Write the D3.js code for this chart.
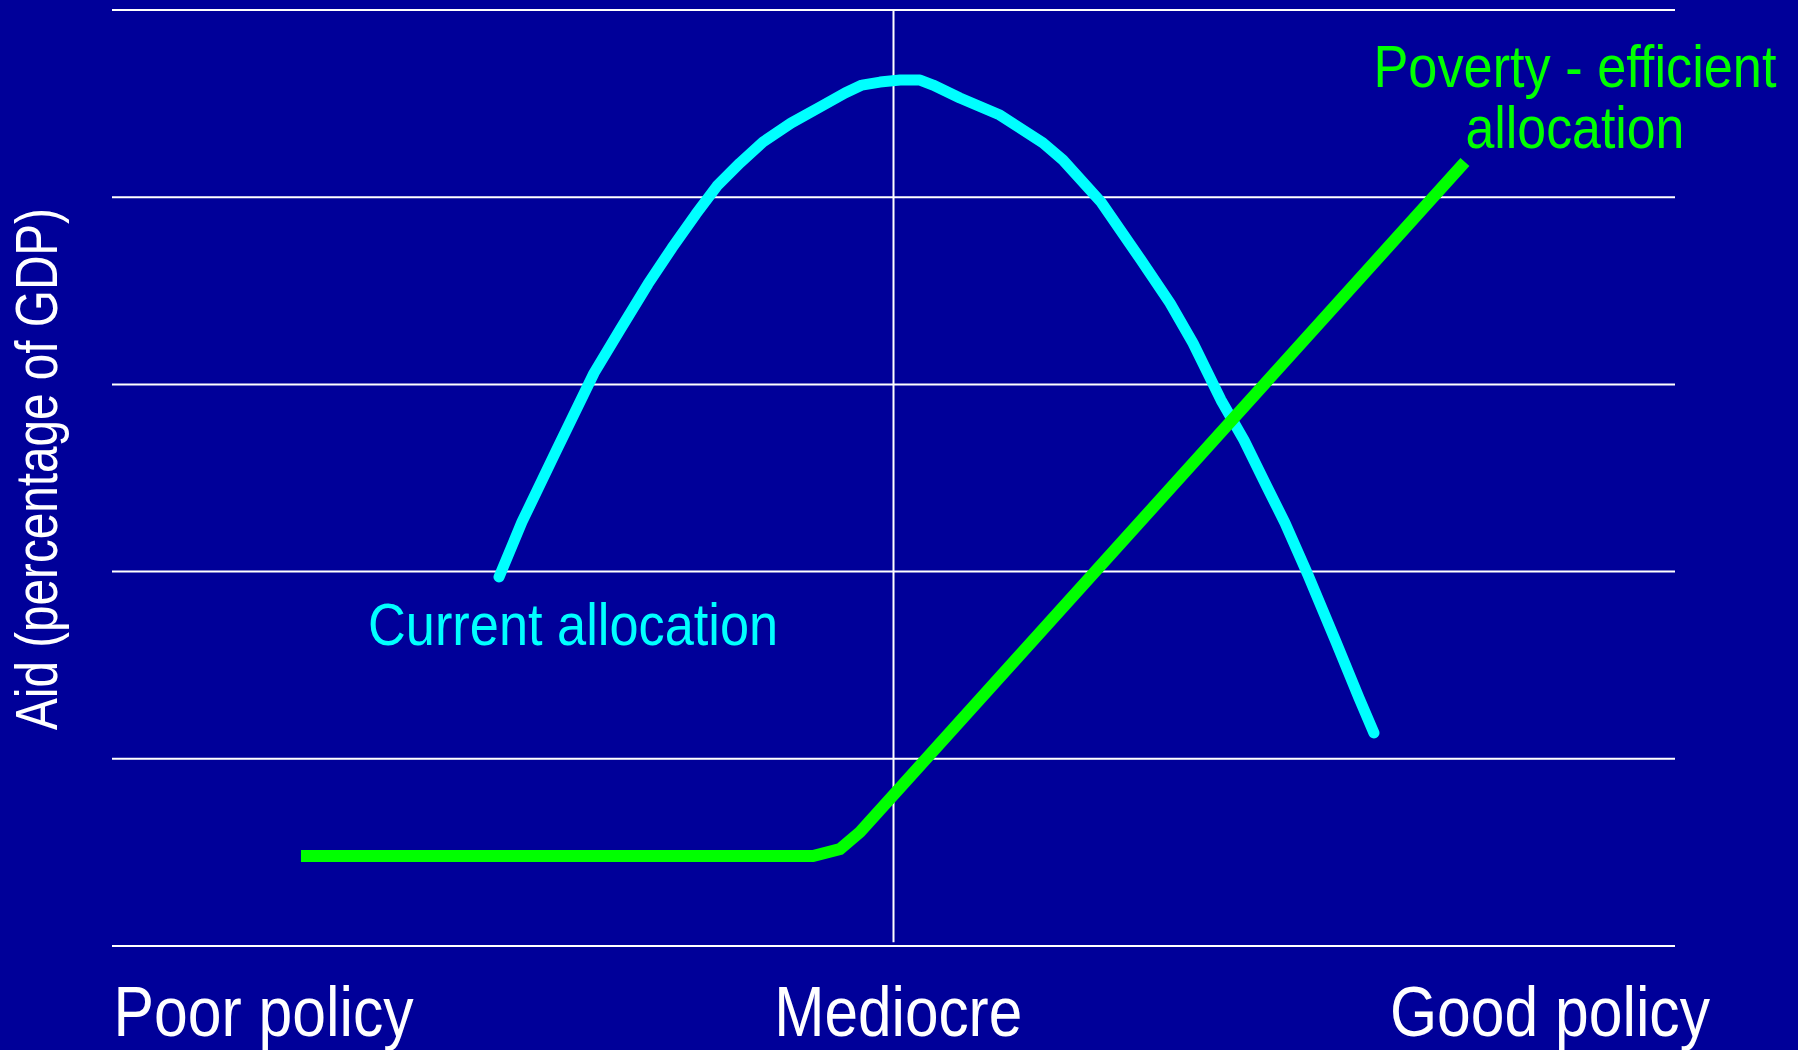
<!DOCTYPE html>
<html>
<head>
<meta charset="utf-8">
<script src="https://cdn.jsdelivr.net/npm/d3@7"></script>
<style>
  html, body { margin: 0; padding: 0; background: #000099; }
  svg { display: block; }
</style>
</head>
<body>
<svg id="chart" width="1798" height="1050"></svg>
<script>
// ---- data (policy index 0..100, aid in grid units 0..5) ----
const gridValues = [0, 1, 2, 3, 4, 5];
const mediocreX = 50;

const currentX = [24.76, 26.23, 28.41, 30.84, 32.50, 34.29, 35.83, 37.36, 38.71, 40.18, 41.65, 43.44, 45.30, 46.90, 47.98, 49.14, 50.42, 51.70, 52.53, 54.25, 56.81, 59.56, 60.84, 63.28, 65.83, 67.69, 69.16, 70.95, 72.42, 73.90, 75.05, 76.52, 78.31, 79.78, 80.74];
const currentY = [1.971, 2.265, 2.644, 3.061, 3.291, 3.536, 3.729, 3.910, 4.060, 4.183, 4.295, 4.396, 4.482, 4.557, 4.599, 4.615, 4.626, 4.626, 4.599, 4.530, 4.439, 4.290, 4.199, 3.974, 3.665, 3.435, 3.221, 2.917, 2.703, 2.452, 2.260, 1.982, 1.624, 1.325, 1.138];

const efficientX = [12.09, 44.85, 46.58, 47.86, 86.56];
const efficientY = [0.481, 0.481, 0.518, 0.609, 4.188];

const xTickLabels = ["Poor policy", "Mediocre", "Good policy"];
const xTickValues = [9.7, 50.3, 92.0];

const yAxisLabel = "Aid (percentage of GDP)";

const seriesLabels = ["Current allocation", "Poverty - efficient", "allocation"];
const seriesLabelX = [29.5, 93.6, 93.6];
const seriesLabelY = [1.608, 4.589, 4.263];

// ---- layout ----
const W = 1798, H = 1050;
const x = d3.scaleLinear().domain([0, 100]).range([112, 1675]);
const y = d3.scaleLinear().domain([0, 5]).range([946, 10]);

const svg = d3.select("#chart");
svg.append("rect").attr("width", W).attr("height", H).attr("fill", "#000099");

const narrow = '"Liberation Sans Narrow", "Arial Narrow", "Liberation Sans", Arial, sans-serif';

// horizontal grid lines
svg.append("g").selectAll("line").data(gridValues).join("line")
  .attr("x1", x(0)).attr("x2", x(100))
  .attr("y1", d => y(d)).attr("y2", d => y(d))
  .attr("stroke", "#ffffff").attr("stroke-width", 2);

// vertical mediocre line
svg.append("line")
  .attr("x1", x(mediocreX)).attr("x2", x(mediocreX))
  .attr("y1", y(5)).attr("y2", y(0.02))
  .attr("stroke", "#ffffff").attr("stroke-width", 2);

// lines
const currentData = currentX.map((v, i) => [v, currentY[i]]);
const efficientData = efficientX.map((v, i) => [v, efficientY[i]]);
const line = d3.line().x(d => x(d[0])).y(d => y(d[1])).curve(d3.curveLinear);

svg.append("path").datum(currentData).attr("d", line)
  .attr("fill", "none").attr("stroke", "#00ffff").attr("stroke-width", 11)
  .attr("stroke-linecap", "round").attr("stroke-linejoin", "round");

svg.append("path").datum(efficientData).attr("d", line)
  .attr("fill", "none").attr("stroke", "#00ff00").attr("stroke-width", 12)
  .attr("stroke-linecap", "butt").attr("stroke-linejoin", "miter");

// x labels
const xLabelLen = [300, 248, 320];
svg.append("g").selectAll("text").data(xTickLabels).join("text")
  .attr("x", (d, i) => x(xTickValues[i]))
  .attr("y", 1036)
  .attr("text-anchor", "middle")
  .attr("font-family", narrow)
  .attr("font-size", 71)
  .attr("fill", "#ffffff")
  .attr("textLength", (d, i) => xLabelLen[i])
  .attr("lengthAdjust", "spacingAndGlyphs")
  .text(d => d);

// series labels
const sColors = ["#00ffff", "#00ff00", "#00ff00"];
const sLen = [410, 403, 219];
svg.append("g").selectAll("text").data(seriesLabels).join("text")
  .attr("x", (d, i) => x(seriesLabelX[i]))
  .attr("y", (d, i) => y(seriesLabelY[i]))
  .attr("text-anchor", "middle")
  .attr("font-family", narrow)
  .attr("font-size", 60)
  .attr("fill", (d, i) => sColors[i])
  .attr("textLength", (d, i) => sLen[i])
  .attr("lengthAdjust", "spacingAndGlyphs")
  .text(d => d);

// y axis label
svg.append("text")
  .attr("transform", "translate(57,730) rotate(-90)")
  .attr("x", 0).attr("y", 0)
  .attr("text-anchor", "start")
  .attr("font-family", narrow)
  .attr("font-size", 60)
  .attr("fill", "#ffffff")
  .attr("textLength", 522)
  .attr("lengthAdjust", "spacingAndGlyphs")
  .text(yAxisLabel);
</script>
</body>
</html>
